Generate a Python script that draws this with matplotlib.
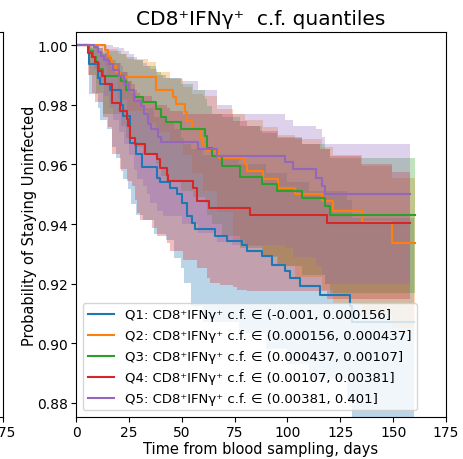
import matplotlib
matplotlib.use('Agg')
from matplotlib import pyplot as plt

# Kaplan-Meier steps (days, survival) and CI bands per quantile group
q1_t = [0, 6.3, 10.2, 11.4, 16.0, 21.3, 22.4, 25.5, 28.4, 31.0, 38.2, 39.7, 44.5, 47.6, 50.0, 52.4,
        54.7, 56.3, 65.7, 71.3, 78.4, 80.7, 87.8, 92.6, 98.9, 101.2, 106.0, 115.4, 129.6, 130.5, 160.0]
q1_s = [1.0, 0.9936, 0.9891, 0.9869, 0.985, 0.980, 0.9762, 0.9673, 0.9634, 0.959, 0.9556, 0.954, 0.952,
        0.950, 0.947, 0.9426, 0.9405, 0.9382, 0.9361, 0.9342, 0.9331, 0.9309, 0.9292, 0.9264, 0.9241,
        0.9219, 0.9191, 0.9163, 0.9124, 0.907, 0.907]
q1_ci_t = [0, 6.3, 10.5, 11.4, 14.5, 17, 19, 21.3, 22.0, 24.4, 26.0, 28.4, 31.5, 37.0, 42.6, 46.5, 49.7,
           51.2, 54.4, 60, 77, 90, 100, 110, 128, 130.5, 160]
q1_lo = [1.0, 0.9835, 0.979, 0.975, 0.9718, 0.966, 0.962, 0.9578, 0.955, 0.9516, 0.9466, 0.9432, 0.9415,
         0.9365, 0.9348, 0.9287, 0.9254, 0.9203, 0.9126, 0.907, 0.9035, 0.898, 0.893, 0.888, 0.881, 0.874, 0.874]
q1_hi = [1.0, 0.999, 0.998, 0.9975, 0.996, 0.995, 0.994, 0.993, 0.991, 0.988, 0.984, 0.982, 0.979, 0.976,
         0.974, 0.972, 0.969, 0.967, 0.965, 0.963, 0.960, 0.957, 0.954, 0.951, 0.948, 0.942, 0.942]

q2_t = [0, 13.9, 15.0, 16.0, 17.0, 19.0, 21.0, 37.8, 45.7, 47.3, 51.6, 52.4, 54.7, 59.0, 60.2, 61.8, 67.8,
        80.0, 80.7, 88.6, 95.7, 103.6, 116.2, 121.7, 135.2, 149.3, 160.4]
q2_s = [1.0, 0.9984, 0.9965, 0.995, 0.993, 0.991, 0.9892, 0.985, 0.9825, 0.9803, 0.9776, 0.9746, 0.9718,
        0.969, 0.9667, 0.9645, 0.9623, 0.960, 0.9578, 0.955, 0.9522, 0.950, 0.9477, 0.9443, 0.9406, 0.9337, 0.9337]
q2_ci_t = [0, 13.9, 14.5, 20, 24, 34, 38, 44.5, 50.6, 55, 60, 66.7, 74.4, 80, 88.6, 95.7, 103.6, 116.2,
           121.7, 135.2, 149.3, 160.4]
q2_lo = [1.0, 0.993, 0.990, 0.982, 0.978, 0.974, 0.971, 0.968, 0.963, 0.957, 0.951, 0.944, 0.9348, 0.9325,
         0.9292, 0.9258, 0.9224, 0.918, 0.9135, 0.910, 0.905, 0.905]
q2_hi = [1.0, 1.0, 0.9987, 0.997, 0.9953, 0.9943, 0.991, 0.9886, 0.986, 0.9835, 0.983, 0.9785, 0.977, 0.975,
         0.9725, 0.970, 0.9685, 0.966, 0.963, 0.9594, 0.9555, 0.9555]

q3_t = [0, 6.3, 8.0, 9.5, 11.0, 13.0, 21.3, 23.7, 27.6, 31.5, 37.8, 40.2, 42.6, 49.7, 61.0, 62.1, 64.2,
        68.9, 77.6, 87.8, 94.9, 106.8, 117.8, 120.2, 160.4]
q3_s = [1.0, 0.998, 0.996, 0.994, 0.992, 0.9895, 0.9881, 0.9848, 0.9825, 0.9808, 0.9786, 0.9758, 0.9741,
        0.9719, 0.9695, 0.9656, 0.9628, 0.9594, 0.9559, 0.9533, 0.951, 0.9488, 0.946, 0.9432, 0.9432]
q3_ci_t = [0, 6.3, 9.5, 13.0, 21.3, 23.7, 27.6, 31.5, 37.8, 40.2, 42.6, 49.7, 55.2, 61.0, 62.1, 64.2, 68.9,
           77.6, 87.8, 94.9, 106.8, 117.8, 120.2, 160.4]
q3_lo = [1.0, 0.990, 0.984, 0.977, 0.973, 0.969, 0.966, 0.963, 0.960, 0.956, 0.954, 0.951, 0.949, 0.947,
         0.943, 0.940, 0.936, 0.932, 0.929, 0.926, 0.923, 0.920, 0.917, 0.917]
q3_hi = [1.0, 1.0, 0.999, 0.998, 0.997, 0.996, 0.995, 0.993, 0.991, 0.990, 0.989, 0.987, 0.985, 0.982,
         0.9795, 0.977, 0.976, 0.973, 0.9705, 0.969, 0.967, 0.965, 0.962, 0.961]

q4_t = [0, 5.8, 7.4, 9.0, 10.5, 12.2, 13.7, 16.9, 20.8, 24.0, 24.8, 25.5, 27.9, 32.6, 38.2, 39.7, 42.9,
        43.7, 55.5, 57.1, 63.0, 82.3, 118.6, 158.0]
q4_s = [1.0, 0.9975, 0.9959, 0.9942, 0.9914, 0.9897, 0.9869, 0.9807, 0.9779, 0.9751, 0.9729, 0.969, 0.9667,
        0.9634, 0.9617, 0.9589, 0.9566, 0.9544, 0.952, 0.9477, 0.9454, 0.9431, 0.9404, 0.9404]
q4_ci_t = [0, 5.8, 7.4, 9, 12.9, 15.3, 16.9, 20.8, 24, 26.3, 27.9, 28.7, 30.3, 35.8, 38.2, 42.9, 44.5, 50.8,
           57.1, 61.8, 63.4, 68, 74.4, 76, 80.7, 87, 95.6, 106.8, 115.4, 118.6, 120, 135, 149.3, 158]
q4_lo = [1.0, 0.990, 0.984, 0.981, 0.976, 0.9724, 0.9634, 0.9583, 0.9544, 0.9526, 0.9482, 0.9438, 0.9415,
         0.9387, 0.9359, 0.9337, 0.9309, 0.928, 0.9253, 0.9219, 0.9202, 0.9195, 0.919, 0.918, 0.9174, 0.9174,
         0.9174, 0.9174, 0.9174, 0.915, 0.915, 0.915, 0.915, 0.915]
q4_hi = [1.0, 1.0, 0.9995, 0.999, 0.997, 0.996, 0.994, 0.991, 0.988, 0.987, 0.985, 0.984, 0.983, 0.981,
         0.980, 0.979, 0.978, 0.977, 0.9768, 0.9768, 0.9768, 0.9768, 0.9746, 0.9746, 0.9729, 0.9712, 0.9693,
         0.967, 0.965, 0.965, 0.9628, 0.960, 0.9575, 0.9575]

q5_t = [0, 8.7, 10.2, 11.8, 13.4, 15.8, 17.3, 20.5, 22.8, 25.2, 27.6, 30.7, 32.3, 33.9, 35.5, 38.6, 40.2,
        57.9, 66.5, 98.9, 102.8, 113.7, 116.2, 117.8, 158.0]
q5_s = [1.0, 0.9993, 0.9976, 0.9965, 0.995, 0.9937, 0.9915, 0.9895, 0.987, 0.9848, 0.9814, 0.9797, 0.9769,
        0.9735, 0.9719, 0.9691, 0.9674, 0.965, 0.9628, 0.9608, 0.9583, 0.9555, 0.9527, 0.9502, 0.9502]
q5_ci_t = [0, 8.7, 10.2, 13.4, 15.8, 17.3, 20.5, 22.8, 25.2, 27.6, 28.7, 31.9, 33.4, 35, 38.2, 41.3, 50,
           57.9, 66.5, 73.6, 98.9, 102.8, 113.7, 116.2, 117.8, 158]
q5_lo = [1.0, 0.992, 0.988, 0.983, 0.979, 0.975, 0.971, 0.967, 0.963, 0.958, 0.955, 0.9527, 0.950, 0.9471,
         0.9443, 0.9426, 0.940, 0.937, 0.934, 0.933, 0.932, 0.929, 0.926, 0.923, 0.920, 0.920]
q5_hi = [1.0, 1.0, 1.0, 1.0, 1.0, 0.9995, 0.999, 0.998, 0.997, 0.996, 0.995, 0.994, 0.993, 0.992, 0.990,
         0.989, 0.988, 0.985, 0.980, 0.9768, 0.975, 0.973, 0.9718, 0.9693, 0.967, 0.967]

bins = ['(-0.001, 0.000156]', '(0.000156, 0.000437]', '(0.000437, 0.00107]',
        '(0.00107, 0.00381]', '(0.00381, 0.401]']

groups = [
    (q1_t, q1_s, q1_ci_t, q1_lo, q1_hi),
    (q2_t, q2_s, q2_ci_t, q2_lo, q2_hi),
    (q3_t, q3_s, q3_ci_t, q3_lo, q3_hi),
    (q4_t, q4_s, q4_ci_t, q4_lo, q4_hi),
    (q5_t, q5_s, q5_ci_t, q5_lo, q5_hi),
]

xt = [0, 25, 50, 75, 100, 125, 150, 175]

fig = plt.figure(figsize=(4.64, 4.60), dpi=100)

# neighbouring panel, only its right edge shows
ax0 = fig.add_axes([0.0065 - 0.8, 0.0913, 0.8, 0.837])
ax0.set_xlim(0, 175)
ax0.set_ylim(0.8753, 1.0044)
ax0.set_xticks(xt)
ax0.tick_params(pad=2)

ax = fig.add_axes([0.1638, 0.0913, 0.7974, 0.837])
for i, (t, s, ct, lo, hi) in enumerate(groups):
    c = 'C%d' % i
    lbl = 'Q%d: CD8\u207aIFN\u03b3\u207a c.f. \u2208 %s' % (i + 1, bins[i])
    ax.step(t, s, where='post', color=c, lw=1.5, label=lbl)
    ax.fill_between(ct, lo, hi, step='post', color=c, alpha=0.3, linewidth=0)

ax.set_xlim(0, 175)
ax.set_ylim(0.8753, 1.0044)
ax.set_xticks(xt)
ax.set_yticks([0.88, 0.90, 0.92, 0.94, 0.96, 0.98, 1.00])
ax.tick_params(pad=2)
ax.set_xlabel('Time from blood sampling, days', fontsize=10.5)
ax.set_ylabel('Probability of Staying Uninfected', fontsize=10.5)
ax.xaxis.set_label_coords(0.5, -0.062)
ax.yaxis.set_label_coords(-0.106, 0.5)
ax.set_title('CD8\u207aIFN\u03b3\u207a  c.f. quantiles', fontsize=14.5)
ax.legend(loc='lower left', fontsize=9.5, labelspacing=0.6)

fig.savefig('out.png', dpi=100)
